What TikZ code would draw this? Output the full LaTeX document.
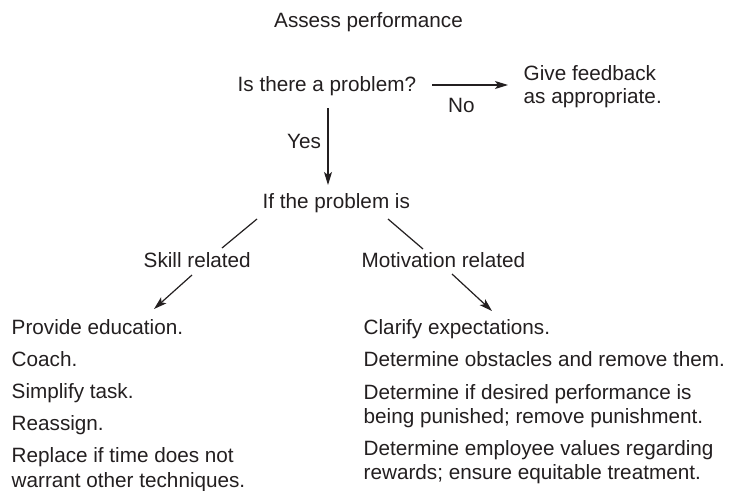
\documentclass[tikz,border=0pt]{standalone}
\usepackage{fontspec}
\setmainfont{Liberation Sans}
\usetikzlibrary{arrows.meta,calc}
\definecolor{ink}{HTML}{231F20}
\begin{document}
\begin{tikzpicture}[x=1pt,y=-1pt,
  txt/.style={inner sep=0pt, anchor=base west, font=\fontsize{20.7}{25}\selectfont, text=ink},
  para/.style={txt, align=left},
  ln/.style={draw=ink, line width=1.2pt},
  arr/.style={ln, -{Stealth[length=13pt,width=8pt,inset=3pt]}}]
\useasboundingbox (0,0) rectangle (730,490);
\fill[white] (0,0) rectangle (730,490);

\node[txt] (ap) at (274,27) {Assess performance};
\node[txt] (q) at (237.5,91) {Is there a problem?};
\node[para, font=\fontsize{20.7}{23.5}\selectfont] (gf) at (523.5,103.5) {Give feedback\\as appropriate.};
\node[txt] (no) at (448,112) {No};
\node[txt] (yes) at (287,148) {Yes};
\node[txt] (ifp) at (262.5,208) {If the problem is};
\node[txt] (sk) at (143.5,267) {Skill related};
\node[txt] (mo) at (361.5,267) {Motivation related};

\node[txt] (pe) at (11.5,334) {Provide education.};
\node[txt] (co) at (11.5,366) {Coach.};
\node[txt] (si) at (11.5,398) {Simplify task.};
\node[txt] (re) at (11.5,430) {Reassign.};
\node[para] (rp) at (11.5,487) {Replace if time does not\\warrant other techniques.};

\node[txt] (cl) at (363.5,334) {Clarify expectations.};
\node[txt] (ob) at (363.5,366) {Determine obstacles and remove them.};
\node[para, font=\fontsize{20.7}{24}\selectfont] (pu) at (363.5,423) {Determine if desired performance is\\being punished; remove punishment.};
\node[para, font=\fontsize{20.7}{23.5}\selectfont] (ev) at (363.5,479) {Determine employee values regarding\\rewards; ensure equitable treatment.};

\draw[arr, shorten >=15.5pt] ([xshift=16pt,yshift=6pt]q.base east) coordinate (h0) -- (h0 -| gf.west);
\draw[arr] ([xshift=90.5pt,yshift=-17pt]q.base west) -- ([xshift=65.5pt,yshift=23pt]ifp.base west);
\draw[ln] ([xshift=-5.5pt,yshift=-11pt]ifp.base west) -- ([xshift=78.5pt,yshift=19pt]sk.base west);
\draw[ln] ([xshift=125.5pt,yshift=-11pt]ifp.base west) -- ([xshift=61.5pt,yshift=18pt]mo.base west);
\draw[arr] ([xshift=48.5pt,yshift=-8pt]sk.base west) -- ([xshift=142.5pt,yshift=25pt]pe.base west);
\draw[arr] ([xshift=90.5pt,yshift=-7pt]mo.base west) -- ([xshift=128.5pt,yshift=23pt]cl.base west);
\end{tikzpicture}
\end{document}
